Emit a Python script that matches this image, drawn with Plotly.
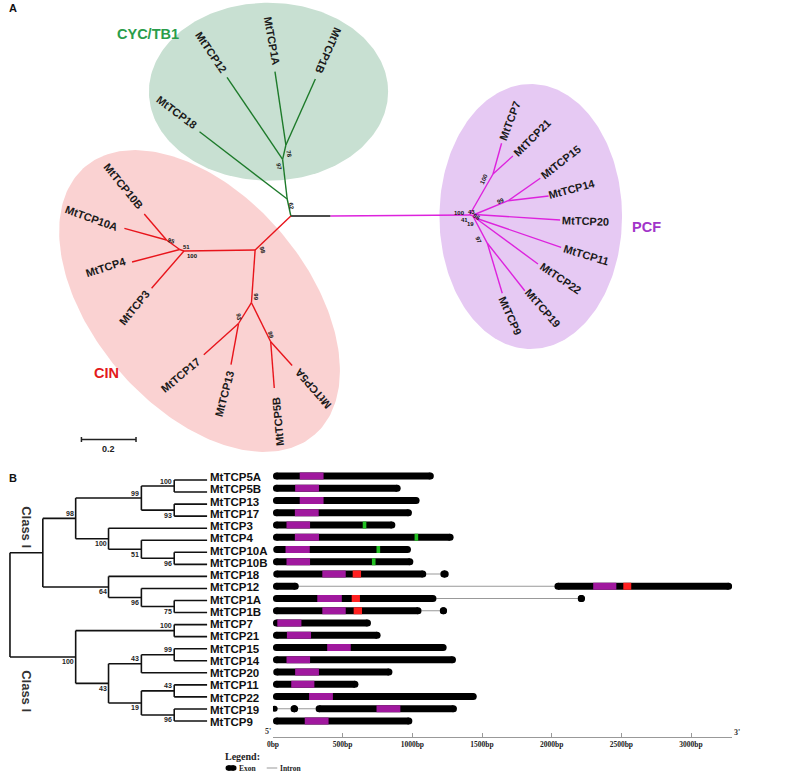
import numpy as np
import plotly.graph_objects as go

W, H = 800, 782
SANS = "Liberation Sans, Arial, sans-serif"
SERIF = "Liberation Serif, Times New Roman, serif"

# ======================= Panel A : unrooted NJ tree =======================
# node layout (tree layout units; scale bar 0.2 = 55 units)
a_node_id = ["R0", "RK", "P0", "G62", "G97", "G78", "T18", "T12", "T1A", "T1B",
             "R98", "R100", "R51", "R95", "T10B", "T10A", "T4", "T3", "R99", "R93", "R99b",
             "T17", "T13", "T5B", "T5A",
             "P721", "T7", "T21", "Pa", "Pb", "P1514", "T15", "T14", "T20", "Pc", "Pd",
             "T11", "T22", "P199", "T19", "T9"]
a_node_x = [287, 327, 467, 283.3, 278.7, 282, 195, 222.7, 271, 311.7,
            251, 179.3, 175, 161.7, 139.3, 119.3, 127, 146.7, 247.3, 234.3, 266.7,
            199.3, 226.7, 270.3, 288.3,
            490.7, 499.3, 510.7, 470, 472, 506, 538.3, 546.7, 558.3, 471, 473,
            559.3, 536, 485, 522.7, 500]
a_node_y = [216, 216, 215, 199, 159.3, 145, 131.7, 77.3, 71.7, 79,
            250, 251, 249.5, 240, 214, 228.3, 262, 288.3, 302.7, 323.5, 341.7,
            354.7, 364.7, 388, 365.5,
            174, 143.3, 156, 215.5, 214.5, 200.7, 178.3, 196, 220, 217, 218,
            247.3, 264, 243.3, 290.7, 293.3]

a_edges_root = [("R0", "RK")]
a_edges_cyc = [("R0", "G62"), ("G62", "T18"), ("G62", "G97"), ("G97", "T12"),
               ("G97", "G78"), ("G78", "T1A"), ("G78", "T1B")]
a_edges_cin = [("R0", "R98"), ("R98", "R100"), ("R100", "T3"), ("R100", "R51"),
               ("R51", "T4"), ("R51", "R95"), ("R95", "T10B"), ("R95", "T10A"),
               ("R98", "R99"), ("R99", "R93"), ("R93", "T17"), ("R93", "T13"),
               ("R99", "R99b"), ("R99b", "T5B"), ("R99b", "T5A")]
a_edges_pcf = [("RK", "P0"), ("P0", "P721"), ("P721", "T7"), ("P721", "T21"),
               ("P0", "Pa"), ("Pa", "Pb"), ("Pb", "P1514"), ("P1514", "T15"),
               ("P1514", "T14"), ("Pb", "T20"), ("Pa", "Pc"), ("Pc", "Pd"),
               ("Pd", "T11"), ("Pd", "T22"), ("Pc", "P199"), ("P199", "T19"),
               ("P199", "T9")]

a_leaf_names = ["MtTCP18", "MtTCP12", "MtTCP1A", "MtTCP1B", "MtTCP10B", "MtTCP10A",
                "MtTCP4", "MtTCP3", "MtTCP17", "MtTCP13", "MtTCP5B", "MtTCP5A",
                "MtTCP7", "MtTCP21", "MtTCP15", "MtTCP14", "MtTCP20", "MtTCP11",
                "MtTCP22", "MtTCP19", "MtTCP9"]
a_leaf_lx = [171.7, 206.7, 268.3, 325, 118.3, 85.7, 101, 129, 176, 220, 274, 309,
             507.3, 530, 559, 570.3, 584, 584.7, 558.3, 540.7, 508.3]
a_leaf_ly = [112.3, 51.7, 40.7, 50.7, 186, 218.3, 267, 308, 375, 394, 421, 388.7,
             120.7, 138.3, 161.7, 189.3, 220.7, 255, 278.3, 308.3, 315.7]
a_leaf_ang = [37, 56, 80, 114, 51, 20, -18, -51, -40, -75, -95, -131,
              -69, -45, -38, -15, 2, 17, 34, 49, 66]

a_bs_text = ["62", "97", "78", "95", "51", "100", "98", "99", "93", "99",
             "100", "43", "96", "41", "19", "97", "99", "100"]
a_bs_x = [287.5, 275.5, 285.5, 166.7, 181.7, 188.3, 258.3, 252.3, 235, 266.7,
          456.7, 469, 474.5, 462, 467.7, 476, 498.3, 481.7]
a_bs_y = [206, 166.5, 153.5, 240.5, 247.3, 256, 250, 296.7, 316.5, 335,
          212.7, 212.3, 217, 220, 224, 240, 200.7, 179.3]
a_bs_ang = [80, 80, 80, 20, 0, 0, 75, 90, 80, 75, 0, 0, 30, 0, 0, 65, -25, -65]

clade_names = ["CYC/TB1", "CIN", "PCF"]
clade_lx = [143.3, 101.7, 645]
clade_ly = [34, 373.3, 226.7]
clade_color = ["#2a9d4a", "#e31a1c", "#a235c9"]
ell_cx = [264.5, 195, 528.7]
ell_cy = [91.7, 301, 216.5]
ell_a = [120.5, 177, 92]
ell_b = [89, 107, 132.5]
ell_rot = [0, 49, 0]
ell_fill = ["#c8e0d2", "#fad2d2", "#e6c9f3"]

scale_bar_len = 0.2
scale_bar_units = 55.0  # layout units for 0.2

# ======================= Panel B : cladogram + gene structure =======================
gene_names = ["MtTCP5A", "MtTCP5B", "MtTCP13", "MtTCP17", "MtTCP3", "MtTCP4",
              "MtTCP10A", "MtTCP10B", "MtTCP18", "MtTCP12", "MtTCP1A", "MtTCP1B",
              "MtTCP7", "MtTCP21", "MtTCP15", "MtTCP14", "MtTCP20", "MtTCP11",
              "MtTCP22", "MtTCP19", "MtTCP9"]

# (name, x-level, bootstrap, children)
tree_b = ("root", 0, None, [
    ("ClassI", 1, None, [
        ("A", 2, 98, [
            ("A1", 4, 99, [("n1", 5, 100, ["MtTCP5A", "MtTCP5B"]),
                           ("n2", 5, 93, ["MtTCP13", "MtTCP17"])]),
            ("A2", 3, 100, ["MtTCP3",
                            ("A2b", 4, 51, ["MtTCP4",
                                            ("n3", 5, 96, ["MtTCP10A", "MtTCP10B"])])]),
        ]),
        ("B", 3, 64, ["MtTCP18",
                      ("B2", 4, 96, ["MtTCP12", ("n4", 5, 75, ["MtTCP1A", "MtTCP1B"])])]),
    ]),
    ("ClassII", 2, 100, [
        ("n5", 5, 100, ["MtTCP7", "MtTCP21"]),
        ("C", 3, 43, [
            ("C1", 4, 43, [("n6", 5, 99, ["MtTCP15", "MtTCP14"]), "MtTCP20"]),
            ("C2", 4, 19, [("n7", 5, 43, ["MtTCP11", "MtTCP22"]),
                           ("n8", 5, 96, ["MtTCP19", "MtTCP9"])]),
        ]),
    ]),
])
LEAF_LEVEL = 6
class_labels = ["Class I", "Class I"]
class_label_y = [527, 691]

exon_starts = [[0], [0], [0], [0], [0], [0], [2], [0], [2, 1201], [0, 2020], [0, 2187],
               [0, 1197], [0], [0], [0], [0], [2], [0], [0], [0, 126, 306], [0]]
exon_ends = [[1154], [916], [1052], [997], [878], [1296], [990], [1007], [1100, 1261],
             [185, 3295], [1173, 2239], [1066, 1249], [703], [772], [1246], [1313], [857],
             [613], [1462], [24, 180, 1320], [1000]]
dom_start = [192, 159, 192, 157, 97, 157, 90, 97, 354, 2298, 318, 354, 31, 100, 389, 97,
             159, 131, 259, 743, 228]
dom_end = [363, 330, 363, 328, 266, 330, 264, 266, 522, 2464, 494, 522, 204, 273, 558, 266,
           330, 297, 430, 914, 399]
green_start = [None, None, None, None, 644, 1016, 743, 710] + [None] * 13
green_end = [None, None, None, None, 670, 1042, 769, 736] + [None] * 13
red_start = [None] * 8 + [572, 2514, 565, 579] + [None] * 9
red_end = [None] * 8 + [632, 2571, 624, 639] + [None] * 9

bp_ticks = [0, 500, 1000, 1500, 2000, 2500, 3000]
bp_tick_labels = ["0bp", "500bp", "1000bp", "1500bp", "2000bp", "2500bp", "3000bp"]
bp_axis_end = 3295

# ---------------- geometry of the page ----------------
X0_PX = 269.0          # pixel of 0 bp
PX_PER_BP = 0.1404
BP_AXIS_Y = 737.0
PANEL_B_TOP = 460.0
BAR_ROW0, BAR_STEP = 476.0, 12.25
TREE_ROW0, TREE_STEP = 480.0, 12.05
TREE_X0, TREE_XSTEP = 4.0, 33.1

fig = go.Figure()
idx = {n: i for i, n in enumerate(a_node_id)}

# ---- ellipses ----
t = np.linspace(0, 2 * np.pi, 240)
for cx, cy, a, b, rot, col in zip(ell_cx, ell_cy, ell_a, ell_b, ell_rot, ell_fill):
    th = np.deg2rad(rot)
    ex = cx + a * np.cos(t) * np.cos(th) - b * np.sin(t) * np.sin(th)
    ey = cy + a * np.cos(t) * np.sin(th) + b * np.sin(t) * np.cos(th)
    fig.add_trace(go.Scatter(x=ex, y=ey, mode="lines", fill="toself", fillcolor=col,
                             line=dict(width=0, color=col), hoverinfo="skip",
                             showlegend=False, xaxis="x", yaxis="y"))


def edge_xy(edges):
    xs, ys = [], []
    for p, c in edges:
        xs += [a_node_x[idx[p]], a_node_x[idx[c]], None]
        ys += [a_node_y[idx[p]], a_node_y[idx[c]], None]
    return xs, ys


for edges, col in [(a_edges_root, "#111111"), (a_edges_cyc, "#1d7a2a"),
                   (a_edges_cin, "#e8141b"), (a_edges_pcf, "#dd22dd")]:
    xs, ys = edge_xy(edges)
    fig.add_trace(go.Scatter(x=xs, y=ys, mode="lines", line=dict(color=col, width=1.4),
                             hoverinfo="skip", showlegend=False, xaxis="x", yaxis="y"))

# scale bar
sb_x0 = 76.0
sb_y = 439.5
fig.add_trace(go.Scatter(x=[sb_x0, sb_x0 + scale_bar_units, None, sb_x0, sb_x0, None,
                            sb_x0 + scale_bar_units, sb_x0 + scale_bar_units],
                         y=[sb_y, sb_y, None, sb_y - 2.5, sb_y + 2.5, None, sb_y - 2.5, sb_y + 2.5],
                         mode="lines", line=dict(color="#222", width=1.5), hoverinfo="skip",
                         showlegend=False, xaxis="x", yaxis="y"))

ann = []
for name, x, y, ang in zip(a_leaf_names, a_leaf_lx, a_leaf_ly, a_leaf_ang):
    ann.append(dict(text=name, x=x, y=y, xref="x", yref="y", showarrow=False, textangle=ang,
                    xanchor="center", yanchor="middle",
                    font=dict(family=SANS, size=11, color="#1a1a1a", weight="bold")))
for s, x, y, ang in zip(a_bs_text, a_bs_x, a_bs_y, a_bs_ang):
    ann.append(dict(text=s, x=x, y=y, xref="x", yref="y", showarrow=False, textangle=ang,
                    xanchor="center", yanchor="middle",
                    font=dict(family=SANS, size=6, color="#111", weight="bold")))
for s, x, y, c in zip(clade_names, clade_lx, clade_ly, clade_color):
    ann.append(dict(text=s, x=x, y=y, xref="x", yref="y", showarrow=False,
                    xanchor="center", yanchor="middle",
                    font=dict(family=SANS, size=14.5, color=c, weight="bold")))
ann.append(dict(text=str(scale_bar_len), x=sb_x0 + scale_bar_units / 2, y=449, xref="x", yref="y",
                showarrow=False, font=dict(family=SANS, size=9, color="#222", weight="bold")))
ann.append(dict(text="A", x=1, y=8, xref="x", yref="y", showarrow=False, xanchor="left",
                font=dict(family=SANS, size=11, color="#111", weight="bold")))
ann.append(dict(text="B", x=1, y=478, xref="x", yref="y", showarrow=False, xanchor="left",
                font=dict(family=SANS, size=11, color="#111", weight="bold")))

# ---- Panel B tree ----
leaf_row = {g: i for i, g in enumerate(gene_names)}
tb_x, tb_y, tb_labels = [], [], []


def walk(node):
    if isinstance(node, str):
        return LEAF_LEVEL, leaf_row[node]
    name, lvl, bs, kids = node
    pos = [walk(k) for k in kids]
    ys = [p[1] for p in pos]
    tb_x.extend([lvl, lvl, None])
    tb_y.extend([ys[0], ys[-1], None])
    for k_i, (k, (kx, ky)) in enumerate(zip(kids, pos)):
        tb_x.extend([lvl, kx, None])
        tb_y.extend([ky, ky, None])
        if not isinstance(k, str) and k[2] is not None:
            tb_labels.append((k[2], k[1], ky, 1 if k_i == 0 else -1))
    return lvl, (ys[0] + ys[-1]) / 2


walk(tree_b)
fig.add_trace(go.Scatter(x=tb_x, y=tb_y, mode="lines", line=dict(color="#111", width=1.6),
                         hoverinfo="skip", showlegend=False, xaxis="x2", yaxis="y2"))
for bs, lvl, y, side in tb_labels:
    ann.append(dict(text=str(bs), x=lvl, y=y, xref="x2", yref="y2", showarrow=False,
                    xanchor="right", yanchor="middle", xshift=0, yshift=5 * side,
                    font=dict(family=SANS, size=7, color="#222", weight="bold")))
for lab, y in zip(class_labels, class_label_y):
    ann.append(dict(text=lab, x=21, y=y, xref="x", yref="y", showarrow=False, textangle=90,
                    xanchor="center", yanchor="middle",
                    font=dict(family=SANS, size=13, color="#333", weight="bold")))
for i, g in enumerate(gene_names):
    ann.append(dict(text=g, x=204, y=i, xref="x", yref="y3", showarrow=False, xanchor="left",
                    yanchor="middle", yshift=-1,
                    font=dict(family=SANS, size=11.5, color="#111", weight="bold")))

# ---- gene structures ----
R_BP = 3.5 / PX_PER_BP
ex_x, ex_y, dot_x, dot_y, in_x, in_y = [], [], [], [], [], []
for i in range(len(gene_names)):
    st, en = exon_starts[i], exon_ends[i]
    for k, (s, e) in enumerate(zip(st, en)):
        if e - s > 2 * R_BP:
            ex_x += [s + R_BP, e - R_BP, None]
            ex_y += [i, i, None]
        else:
            dot_x.append((s + e) / 2)
            dot_y.append(i)
        if k + 1 < len(st):
            in_x += [e, st[k + 1], None]
            in_y += [i, i, None]

fig.add_trace(go.Scatter(x=in_x, y=in_y, mode="lines", line=dict(color="#999", width=1),
                         hoverinfo="skip", showlegend=False, xaxis="x3", yaxis="y3"))
fig.add_trace(go.Scatter(x=ex_x, y=ex_y, mode="lines+markers", line=dict(color="#000", width=7),
                         marker=dict(color="#000", size=7, line=dict(width=0)),
                         hoverinfo="skip", showlegend=False, xaxis="x3", yaxis="y3"))
fig.add_trace(go.Scatter(x=dot_x, y=dot_y, mode="markers",
                         marker=dict(color="#000", size=6, symbol="circle", line=dict(width=0)),
                         hoverinfo="skip", showlegend=False, xaxis="x3", yaxis="y3"))


def seg_trace(starts, ends, color):
    xs, ys = [], []
    for i, (s, e) in enumerate(zip(starts, ends)):
        if s is None:
            continue
        xs += [s, e, None]
        ys += [i, i, None]
    fig.add_trace(go.Scatter(x=xs, y=ys, mode="lines", line=dict(color=color, width=7),
                             hoverinfo="skip", showlegend=False, xaxis="x3", yaxis="y3"))


seg_trace(dom_start, dom_end, "#a0189e")
seg_trace(green_start, green_end, "#22c022")
seg_trace(red_start, red_end, "#ff2020")

# 5' / 3' and legend
ann.append(dict(text="5'", x=263.5, y=731.5, xref="x", yref="y", showarrow=False,
                font=dict(family=SERIF, size=8, color="#333", weight="bold")))
ann.append(dict(text="3'", x=737, y=732, xref="x", yref="y", showarrow=False,
                font=dict(family=SERIF, size=8, color="#333", weight="bold")))
ann.append(dict(text="Legend:", x=219, y=756, xref="x", yref="y", showarrow=False, xanchor="left",
                font=dict(family=SERIF, size=10, color="#222", weight="bold")))
ann.append(dict(text="Exon", x=233, y=768, xref="x", yref="y", showarrow=False, xanchor="left",
                font=dict(family=SERIF, size=7.5, color="#222", weight="bold")))
ann.append(dict(text="Intron", x=274, y=768, xref="x", yref="y", showarrow=False, xanchor="left",
                font=dict(family=SERIF, size=7.5, color="#222", weight="bold")))
fig.add_trace(go.Scatter(x=[224, 229.5], y=[768, 768], mode="lines+markers",
                         line=dict(color="#000", width=5.5), marker=dict(size=5.5, color="#000"),
                         hoverinfo="skip", showlegend=False, xaxis="x", yaxis="y"))
fig.add_trace(go.Scatter(x=[262.7, 273.3], y=[768, 768], mode="lines",
                         line=dict(color="#999", width=1),
                         hoverinfo="skip", showlegend=False, xaxis="x", yaxis="y"))

yb_dom = [0, 1 - PANEL_B_TOP / H]
hidden = dict(visible=False, showgrid=False, zeroline=False, fixedrange=True)
fig.update_layout(
    width=W, height=H, margin=dict(l=0, r=0, t=0, b=0, pad=0),
    paper_bgcolor="white", plot_bgcolor="rgba(0,0,0,0)", showlegend=False,
    xaxis=dict(domain=[0, 1], range=[0, W], anchor="y", **hidden),
    yaxis=dict(domain=[0, 1], range=[H, 0], anchor="x", **hidden),
    xaxis2=dict(domain=[0, 1], range=[-TREE_X0 / TREE_XSTEP, (W - TREE_X0) / TREE_XSTEP],
                anchor="y2", **hidden),
    yaxis2=dict(domain=yb_dom, range=[(H - TREE_ROW0) / TREE_STEP, (PANEL_B_TOP - TREE_ROW0) / TREE_STEP],
                anchor="x2", **hidden),
    xaxis3=dict(domain=[X0_PX / W, (X0_PX + bp_axis_end * PX_PER_BP) / W], range=[0, bp_axis_end],
                anchor="free", position=1 - BP_AXIS_Y / H, showline=True, linecolor="#999",
                linewidth=1.3, ticks="inside", ticklen=4, tickcolor="#999", tickwidth=1,
                tickvals=bp_ticks, ticktext=bp_tick_labels, tickangle=0,
                tickfont=dict(family=SERIF, size=7.5, color="#222", weight="bold"),
                showgrid=False, zeroline=False, fixedrange=True),
    yaxis3=dict(domain=yb_dom, range=[(H - BAR_ROW0) / BAR_STEP, (PANEL_B_TOP - BAR_ROW0) / BAR_STEP],
                anchor="x3", **hidden),
    annotations=ann,
)

fig.write_html("out.html", config={"displayModeBar": False},
               post_script="document.body.style.margin='0';document.body.style.overflow='hidden';")
